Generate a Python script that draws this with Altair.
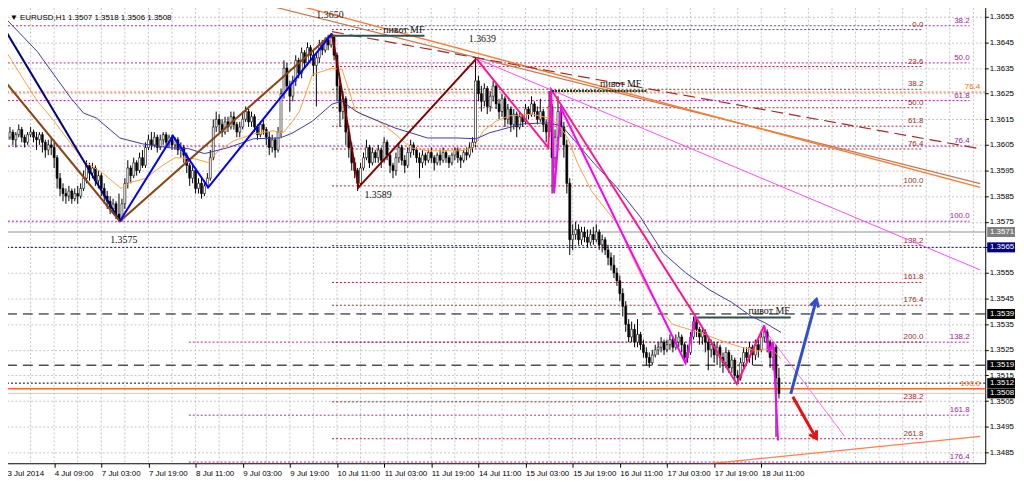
import json
import altair as alt
import pandas as pd

BASE = 1.35  # prices below are in pips above 1.3500


def pr(p):
    return round(BASE + p / 10000.0, 6)


# ---------------- candles (pips above 1.3500) ----------------
first_open = 107
closes = [
    108, 110, 107, 109, 111, 108, 106, 109, 110, 108,
    107, 109, 106, 103, 105, 104, 100, 92, 88, 86,
    85, 87, 84, 86, 85, 88, 92, 97, 94, 96,
    91, 93, 88, 85, 83, 80, 82, 78, 76, 82,
    90, 96, 93, 98, 95, 100, 97, 104, 107, 105,
    108, 104, 107, 109, 106, 108, 105, 107, 103, 104,
    101, 97, 92, 95, 88, 90, 86, 89, 92, 100,
    112, 115, 113, 110, 114, 112, 116, 113, 110, 112,
    115, 118, 114, 116, 112, 109, 113, 111, 108, 104,
    107, 103, 110, 125, 135, 128, 124, 130, 138, 133,
    141, 137, 143, 140, 136, 139, 144, 142, 146, 144,
    147, 140, 128, 118, 123, 110, 104, 98, 95, 90,
    96, 100, 104, 98, 102, 100, 103, 99, 106, 101,
    97, 95, 100, 104, 99, 97, 102, 105, 103, 100,
    98, 101, 99, 102, 100, 98, 101, 99, 102, 100,
    98, 101, 103, 100, 99, 102, 101, 104, 106, 130,
    125, 122, 127, 120, 124, 128, 121, 118, 123, 115,
    119, 113, 117, 112, 116, 114, 119, 117, 121, 118,
    115, 118, 113, 110, 120, 100, 108, 118, 112, 105,
    90, 68, 70, 72, 68, 71, 69, 67, 70, 68,
    71, 66, 68, 64, 61, 58, 55, 52, 47, 42,
    35, 30, 33, 28, 31, 27, 24, 22, 20, 23,
    25, 26, 28, 25, 27, 29, 26, 28, 30, 27,
    22, 24, 30, 36, 33, 30, 32, 28, 25, 27,
    23, 26, 22, 20, 24, 18, 21, 15, 14, 20,
    24, 22, 26, 23, 27, 25, 30, 32, 28, 22,
    26, 14, 8,
]
highs = [
    110, 112, 111, 110, 113, 112, 109, 110, 112, 111,
    110, 110, 110, 107, 107, 108, 106, 101, 94, 90,
    88, 89, 88, 88, 89, 90, 95, 99, 98, 98,
    97, 95, 94, 90, 87, 85, 84, 83, 86, 84,
    92, 99, 97, 100, 99, 102, 103, 106, 109, 110,
    110, 109, 109, 110, 110, 109, 109, 108, 108, 106,
    105, 102, 98, 97, 96, 92, 92, 91, 94, 103,
    115, 118, 117, 115, 116, 116, 118, 118, 114, 114,
    118, 120, 119, 118, 117, 113, 114, 115, 112, 110,
    109, 108, 112, 127, 138, 137, 130, 132, 140, 139,
    143, 142, 145, 144, 142, 141, 146, 146, 147, 148,
    148.5, 148, 141, 130, 126, 124, 112, 106, 100, 96,
    98, 102, 107, 105, 104, 103, 105, 104, 108, 107,
    102, 98, 102, 106, 105, 101, 104, 107, 106, 104,
    102, 103, 102, 103, 104, 101, 102, 103, 104, 103,
    101, 102, 104, 104, 101, 103, 104, 106, 108, 139,
    132, 128, 129, 128, 126, 130, 129, 123, 125, 124,
    121, 120, 119, 118, 118, 117, 121, 120, 124, 122,
    120, 123, 119, 115, 126, 121, 111, 124, 120, 114,
    107, 92, 74, 75, 74, 73, 73, 72, 72, 73,
    74, 72, 70, 69, 66, 63, 62, 57, 54, 49,
    44, 37, 36, 35, 37, 32, 29, 26, 24, 25,
    27, 28, 30, 29, 29, 31, 30, 31, 32, 31,
    28, 27, 32, 38, 37, 34, 34, 33, 30, 29,
    28, 28, 27, 24, 26, 25, 23, 22, 17, 22,
    26, 26, 28, 27, 29, 29, 32, 34.5, 33, 29,
    28, 27, 18,
]
lows = [
    105, 107, 105, 104, 108, 106, 104, 105, 108, 106,
    103, 105, 102, 100, 101, 101, 96, 88, 85, 83,
    82, 83, 82, 83, 82, 84, 87, 90, 91, 92,
    89, 88, 85, 82, 80, 78, 78, 76, 75, 75,
    80, 88, 90, 92, 93, 94, 96, 96, 103, 103,
    104, 102, 103, 105, 104, 104, 103, 103, 101, 100,
    98, 94, 89, 90, 86, 86, 84, 85, 88, 91,
    99, 110, 110, 108, 109, 110, 111, 111, 108, 108,
    111, 114, 112, 112, 110, 107, 108, 109, 105, 101,
    102, 100, 102, 108, 123, 126, 118, 122, 128, 131,
    131, 135, 136, 138, 132, 120, 137, 140, 141, 142,
    143, 138, 122, 112, 115, 105, 100, 95, 92, 87,
    89, 95, 99, 96, 97, 98, 98, 96, 98, 99,
    94, 92, 93, 98, 97, 94, 96, 100, 101, 98,
    92, 96, 97, 98, 98, 95, 97, 97, 98, 98,
    96, 97, 99, 98, 96, 98, 99, 100, 102, 104,
    122, 118, 120, 117, 118, 122, 119, 115, 116, 112,
    113, 110, 111, 108, 111, 112, 113, 115, 116, 116,
    113, 114, 110, 106, 108, 86, 96, 106, 108, 100,
    86, 62, 64, 68, 66, 66, 67, 65, 66, 66,
    67, 64, 63, 62, 58, 56, 53, 50, 44, 38,
    32, 28, 28, 26, 26, 25, 22, 19, 18, 19,
    22, 23, 24, 23, 24, 25, 24, 25, 26, 24,
    20, 20, 23, 29, 30, 27, 27, 24, 17, 22,
    20, 19, 18, 16, 18, 16, 16, 13, 12, 13,
    18, 19, 20, 19, 21, 22, 24, 28, 24, 18,
    17, -9, 6,
]

# ---------------- axes ----------------
date_bars = [0, 16, 32, 48, 64, 80, 96, 112, 128, 144, 160, 176, 192, 208, 224, 240, 256]
date_labels = ["3 Jul 2014", "4 Jul 09:00", "7 Jul 03:00", "7 Jul 19:00", "8 Jul 11:00",
               "9 Jul 03:00", "9 Jul 19:00", "10 Jul 11:00", "11 Jul 03:00", "11 Jul 19:00",
               "14 Jul 11:00", "15 Jul 03:00", "15 Jul 19:00", "16 Jul 11:00", "17 Jul 03:00",
               "17 Jul 19:00", "18 Jul 11:00"]
price_ticks = [1.3485, 1.3495, 1.3505, 1.3515, 1.3525, 1.3535, 1.3545, 1.3555, 1.3565,
               1.3575, 1.3585, 1.3595, 1.3605, 1.3615, 1.3625, 1.3635, 1.3645, 1.3655]
grid_bars = list(range(0, 331, 8))

# ---------------- indicator / drawing data (bar, pips) ----------------
lines = {
    "tl_brown": [(86.7, 160.0), (330.3, 89.9)],
    "tl_orange": [(94.3, 160.8), (330.3, 88.4)],
    "tl_dash": [(110.3, 149.2), (330.3, 103.5)],
    "tl_mag": [(159.3, 138.7), (330.3, 56.2)],
    "tl_pink2": [(257, 33.0), (284.3, -8.8)],
    "tl_bottom": [(232.7, -20.1), (330.3, -8.8)],
    "ma_orange": [(-0.7, 142.2), (6, 129.8), (10.3, 122.1), (16, 114.3), (21.7, 105.4), (26, 98.8),
                  (32.7, 93.8), (38.7, 88.0), (41.7, 90.3), (47, 91.9), (52.7, 96.9), (57, 100.0),
                  (63.7, 99.6), (68.3, 98.1), (71.7, 102.7), (77, 106.6), (83.7, 109.3), (90.3, 110.5),
                  (93.7, 109.7), (97, 114.3), (99.3, 118.2), (103.7, 132.5), (110.3, 134.9),
                  (113.7, 134.5), (118.3, 118.2), (126, 114.3), (131.7, 109.3), (137, 103.9),
                  (142.7, 102.7), (153.7, 102.7), (158.3, 103.9), (161.7, 110.5), (166, 114.3),
                  (170.3, 116.3), (178.3, 117.0), (183.7, 115.5), (187, 113.2), (190.3, 107.7),
                  (193.7, 97.7), (198.3, 87.2), (202.7, 80.6), (207, 74.4), (212.7, 60.1),
                  (217, 49.7), (221.7, 40.7), (226, 34.9), (235, 31.8), (243.7, 28.0), (249.3, 26.0),
                  (255, 24.5), (257, 25.3), (260.3, 24.5), (262.7, 21.4)],
    "ma_navy": [(0, 153.8), (10.3, 141.4), (21.7, 123.2), (26, 117.4), (30.3, 115.5), (38.3, 107.7),
                (46, 105.4), (55, 103.9), (61.7, 103.5), (67, 101.6), (75, 103.9), (83.7, 107.4),
                (92.7, 107.7), (97, 109.7), (103.7, 114.3), (110.3, 120.9), (113.7, 122.1),
                (118.3, 118.2), (120.3, 117.0), (131.7, 111.6), (142.7, 107.7), (152.7, 107.7),
                (159.3, 107.4), (163.7, 109.7), (175, 113.2), (183.7, 113.6), (188.3, 112.4),
                (192.7, 106.6), (199.3, 97.7), (207, 88.4), (215, 76.8), (222.7, 62.8),
                (230.3, 55.1), (238.3, 48.5), (246, 43.5), (252.7, 38.0), (257, 35.7), (262.7, 31.8)],
    "zz_navy": [(-0.7, 150.0), (38.3, 75.2)],
    "zz_brown": [(-0.7, 129.8), (38.3, 75.2), (110.3, 148.4)],
    "zz_blue": [(38.3, 75.2), (56.3, 108.5), (68.3, 88.4), (110.3, 148.4)],
    "zz_red": [(110.3, 148.4), (119.3, 88.4), (159.3, 138.7)],
    "zz_deeppink": [(159.3, 138.7), (183.7, 103.9), (184.7, 126.7), (233.7, 38.0), (247.7, 11.7),
                    (257, 34.5)],
    "zz_magenta": [(184.7, 126.7), (185.7, 86.1), (188, 119.4), (230.3, 19.8), (233.7, 38.0)],
    "zz_magenta2": [(257, 34.5), (258.7, 24.5), (260, 28.0), (261.7, -10.4)],
    "pv1": [(110.3, 147.6), (141.7, 147.6)],
    "pv2": [(185, 126.0), (217, 126.0)],
    "pv3": [(234.3, 37.6), (266, 37.6)],
    "arr_blue": [(266, 7.8), (274.7, 44.6)],
    "arr_red": [(266.7, 6.7), (274.7, -9.6)],
}
line_styles = {
    "tl_brown": dict(color="#bf7a50", strokeWidth=1.2),
    "tl_orange": dict(color="#ff7a33", strokeWidth=1.3),
    "tl_dash": dict(color="#a52a2a", strokeWidth=1.2, strokeDash=[12, 6]),
    "tl_mag": dict(color="#ff4dff", strokeWidth=1),
    "tl_pink2": dict(color="#ff66ff", strokeWidth=1),
    "tl_bottom": dict(color="#ff7f50", strokeWidth=1.3),
    "ma_orange": dict(color="#ffa040", strokeWidth=1),
    "ma_navy": dict(color="#3b3ba6", strokeWidth=1),
    "zz_navy": dict(color="#000080", strokeWidth=2),
    "zz_brown": dict(color="#8b4513", strokeWidth=2),
    "zz_blue": dict(color="#0000ff", strokeWidth=2),
    "zz_red": dict(color="#800000", strokeWidth=2),
    "zz_deeppink": dict(color="#ff1493", strokeWidth=2),
    "zz_magenta": dict(color="#ff00ff", strokeWidth=2),
    "zz_magenta2": dict(color="#ff00ff", strokeWidth=2),
    "pv1": dict(color="#2f4f4f", strokeWidth=2),
    "pv2": dict(color="#1a3a1a", strokeWidth=2, strokeDash=[2, 1]),
    "pv3": dict(color="#2f4f4f", strokeWidth=2),
    "arr_blue": dict(color="#2f4fd0", strokeWidth=3),
    "arr_red": dict(color="#e81010", strokeWidth=3),
}
line_order_back = ["tl_brown", "tl_orange", "tl_dash", "tl_mag", "tl_pink2", "tl_bottom"]
line_order_front = ["ma_orange", "ma_navy", "zz_navy", "zz_brown", "zz_blue", "zz_red",
                    "zz_deeppink", "zz_magenta", "zz_magenta2", "pv1", "pv2", "pv3",
                    "arr_blue", "arr_red"]

# arrow heads (end of arrows)
head_bars = [274.7, 274.7]
head_pips = [44.6, -9.6]
head_angles = [15, 150]
head_colors = ["#2f4fd0", "#e81010"]

# horizontal full-width levels
hline_pips = [125.6, 9.8, 71, 65, 39, 19, 12, 8]
hline_styles = [
    dict(color="#ff5a1a", strokeDash=[2, 2], strokeWidth=1),
    dict(color="#ff6a2a", strokeWidth=1.5),
    dict(color="#909090", strokeWidth=1),
    dict(color="#0000c0", strokeDash=[2, 2], strokeWidth=1),
    dict(color="#000000", strokeDash=[10, 6], strokeWidth=1),
    dict(color="#505050", strokeDash=[10, 6], strokeWidth=1.5),
    dict(color="#000000", strokeDash=[2, 2], strokeWidth=1),
    dict(color="#c8c8c8", strokeWidth=1),
]

# fibonacci sets
red_levels = [150, 135.6, 126.7, 119.5, 112.3, 103.4, 89, 65.7, 51.3, 42.4, 28, 4.7, -9.7]
red_labels = ["0.0", "23.6", "38.2", "50.0", "61.8", "76.4", "100.0", "138.2", "161.8",
              "176.4", "200.0", "238.2", "261.8"]
red_start, red_end = 110.3, 311.0
purple_levels = [151.5, 137, 122.3, 104.5, 75.2, 28, -0.5, -18.8]
purple_labels = ["38.2", "50.0", "61.8", "76.4", "100.0", "138.2", "161.8", "176.4"]
purple_starts = [-1, -1, -1, -1, -1, 61.7, 61.7, 61.7]
purple_end = 326.7
orange_levels = [125.6, 9.8]
orange_labels = ["76.4", "100.0"]
orange_end = 330.3

# annotations
note_texts = ["1.3650", "1.3639", "1.3589", "1.3575", "пивот MF", "пивот MF", "пивот MF"]
note_bars = [105, 156.7, 121.3, 35, 127.7, 201.3, 251.7]
note_pips = [155.8, 146.5, 85.3, 67.9, 150, 128.7, 40]

box_labels = ["1.3571", "1.3565", "1.3539", "1.3519", "1.3512", "1.3508"]
box_pips = [71, 65, 39, 19, 12, 8]
box_colors = ["#808080", "#000080", "#000000", "#000000", "#000000", "#000000"]

title_text = "\u25bc EURUSD,H1  1.3507 1.3518 1.3506 1.3508"

# ---------------- build ----------------
X_DOMAIN = [0, 330.333]
Y_DOMAIN = [pr(-19.28), pr(160.03)]
xs = alt.Scale(domain=X_DOMAIN, nice=False, zero=False)
ys = alt.Scale(domain=Y_DOMAIN, nice=False, zero=False)

FONT = "Liberation Sans"
xax = alt.Axis(values=date_bars, labelExpr=json.dumps(date_labels) + "[round(datum.value/16)]",
               labelAlign="left", labelFont=FONT, labelFontSize=8, labelColor="black",
               labelPadding=2, tickSize=4, tickColor="black", domainColor="black",
               grid=False, labelOverlap=False, labelFlush=False, title=None)
yax = alt.Axis(orient="right", values=price_ticks, format=".4f", labelFont=FONT, labelFontSize=8,
               labelColor="black", labelPadding=1, tickSize=3, tickColor="black",
               domainColor="black", grid=True, gridColor="#c4c4c4", gridDash=[2, 2],
               labelOverlap=False, labelFlush=False, title=None)


def X(f="bar"):
    return alt.X(f, type="quantitative", scale=xs, axis=xax)


def Y(f="price"):
    return alt.Y(f, type="quantitative", scale=ys, axis=yax)


layers = []

# vertical grid
vg = pd.DataFrame({"bar": grid_bars})
layers.append(alt.Chart(vg).mark_rule(color="#c4c4c4", strokeDash=[2, 2], strokeWidth=1)
              .encode(x=X("bar")))

# full-width levels
for p, st in zip(hline_pips, hline_styles):
    d = pd.DataFrame({"price": [pr(p)]})
    layers.append(alt.Chart(d).mark_rule(**st).encode(y=Y("price")))

# fib segments
red_df = pd.DataFrame({"price": [pr(v) for v in red_levels], "lab": red_labels,
                       "x0": [red_start] * len(red_levels), "x1": [red_end] * len(red_levels)})
pur_df = pd.DataFrame({"price": [pr(v) for v in purple_levels], "lab": purple_labels,
                       "x0": purple_starts, "x1": [purple_end] * len(purple_levels)})
ora_df = pd.DataFrame({"price": [pr(v) for v in orange_levels], "lab": orange_labels,
                       "x1": [orange_end] * len(orange_levels)})
layers.append(alt.Chart(pur_df).mark_rule(color="#b020b0", strokeDash=[2, 2], strokeWidth=1, clip=True)
              .encode(x=X("x0"), x2="x1", y=Y("price")))
layers.append(alt.Chart(red_df).mark_rule(color="#a52a2a", strokeDash=[2, 2], strokeWidth=1, clip=True)
              .encode(x=X("x0"), x2="x1", y=Y("price")))
for df, col in [(pur_df, "#a020a0"), (red_df, "#a52a2a"), (ora_df, "#ff6a00")]:
    layers.append(alt.Chart(df).mark_text(align="right", baseline="bottom", dy=-1, font=FONT,
                                          fontSize=8, color=col)
                  .encode(x=X("x1"), y=Y("price"), text="lab:N"))


def line_df(name):
    pts = lines[name]
    return pd.DataFrame({"seq": list(range(len(pts))), "bar": [a for a, _ in pts],
                         "price": [pr(b) for _, b in pts]})


def line_layer(name):
    return (alt.Chart(line_df(name)).mark_line(clip=True, **line_styles[name])
            .encode(x=X("bar"), y=Y("price"), order=alt.Order("seq:Q")))


for n in line_order_back:
    layers.append(line_layer(n))

# candles
opens = [first_open] + closes[:-1]
cd = pd.DataFrame({"bar": list(range(len(closes))),
                   "o": [pr(v) for v in opens], "c": [pr(v) for v in closes],
                   "h": [pr(v) for v in highs], "l": [pr(v) for v in lows]})
cd["lo"] = cd[["o", "c"]].min(axis=1)
cd["hi"] = cd[["o", "c"]].max(axis=1)
cd["bull"] = cd["c"] >= cd["o"]
layers.append(alt.Chart(cd).mark_rule(color="black", strokeWidth=1, clip=True)
              .encode(x=X("bar"), y=Y("l"), y2="h"))
layers.append(alt.Chart(cd).transform_filter("datum.bull").mark_bar(
    size=2, fill="white", stroke="black", strokeWidth=0.6, clip=True)
    .encode(x=X("bar"), y=Y("lo"), y2="hi"))
layers.append(alt.Chart(cd).transform_filter("!datum.bull").mark_bar(
    size=2, fill="black", stroke="black", strokeWidth=0.6, clip=True)
    .encode(x=X("bar"), y=Y("lo"), y2="hi"))

for n in line_order_front:
    layers.append(line_layer(n))

# arrow heads
hd = pd.DataFrame({"bar": head_bars, "price": [pr(v) for v in head_pips],
                   "ang": head_angles, "col": head_colors})
layers.append(alt.Chart(hd).mark_point(shape="M-0.6,1L0,0L0.6,1", size=200, filled=False,
                                       strokeWidth=3, opacity=1)
              .encode(x=X("bar"), y=Y("price"), angle=alt.Angle("ang:Q", scale=None),
                      color=alt.Color("col:N", scale=None)))

# annotations
nd = pd.DataFrame({"t": note_texts, "bar": note_bars, "price": [pr(v) for v in note_pips]})
layers.append(alt.Chart(nd).mark_text(align="left", baseline="middle", font="Liberation Serif",
                                      fontSize=10, color="#111111")
              .encode(x=X("bar"), y=Y("price"), text="t:N"))

# price boxes at right axis
bd = pd.DataFrame({"lab": box_labels, "price": [pr(v) for v in box_pips], "col": box_colors})
layers.append(alt.Chart(bd).mark_point(shape="M-1,-0.36H1V0.36H-1Z", size=784, filled=True,
                                       opacity=1, strokeWidth=0)
              .encode(x=alt.value(1007), y=Y("price"), color=alt.Color("col:N", scale=None)))
layers.append(alt.Chart(bd).mark_text(align="center", baseline="middle", font=FONT, fontSize=8,
                                      color="white")
              .encode(x=alt.value(1008), y=Y("price"), text="lab:N"))

# title
td = pd.DataFrame({"t": [title_text]})
layers.append(alt.Chart(td).mark_text(align="left", baseline="middle", font=FONT, fontSize=8,
                                      color="black")
              .encode(x=alt.value(8), y=alt.value(14), text="t:N"))

chart = (alt.layer(*layers)
         .properties(width=991, height=463, autosize="none",
                     padding={"left": -6, "top": -6, "right": 31, "bottom": 17},
                     background="white")
         .configure_view(strokeWidth=0))

chart.save("out.html", embed_options={"renderer": "svg", "actions": False})
